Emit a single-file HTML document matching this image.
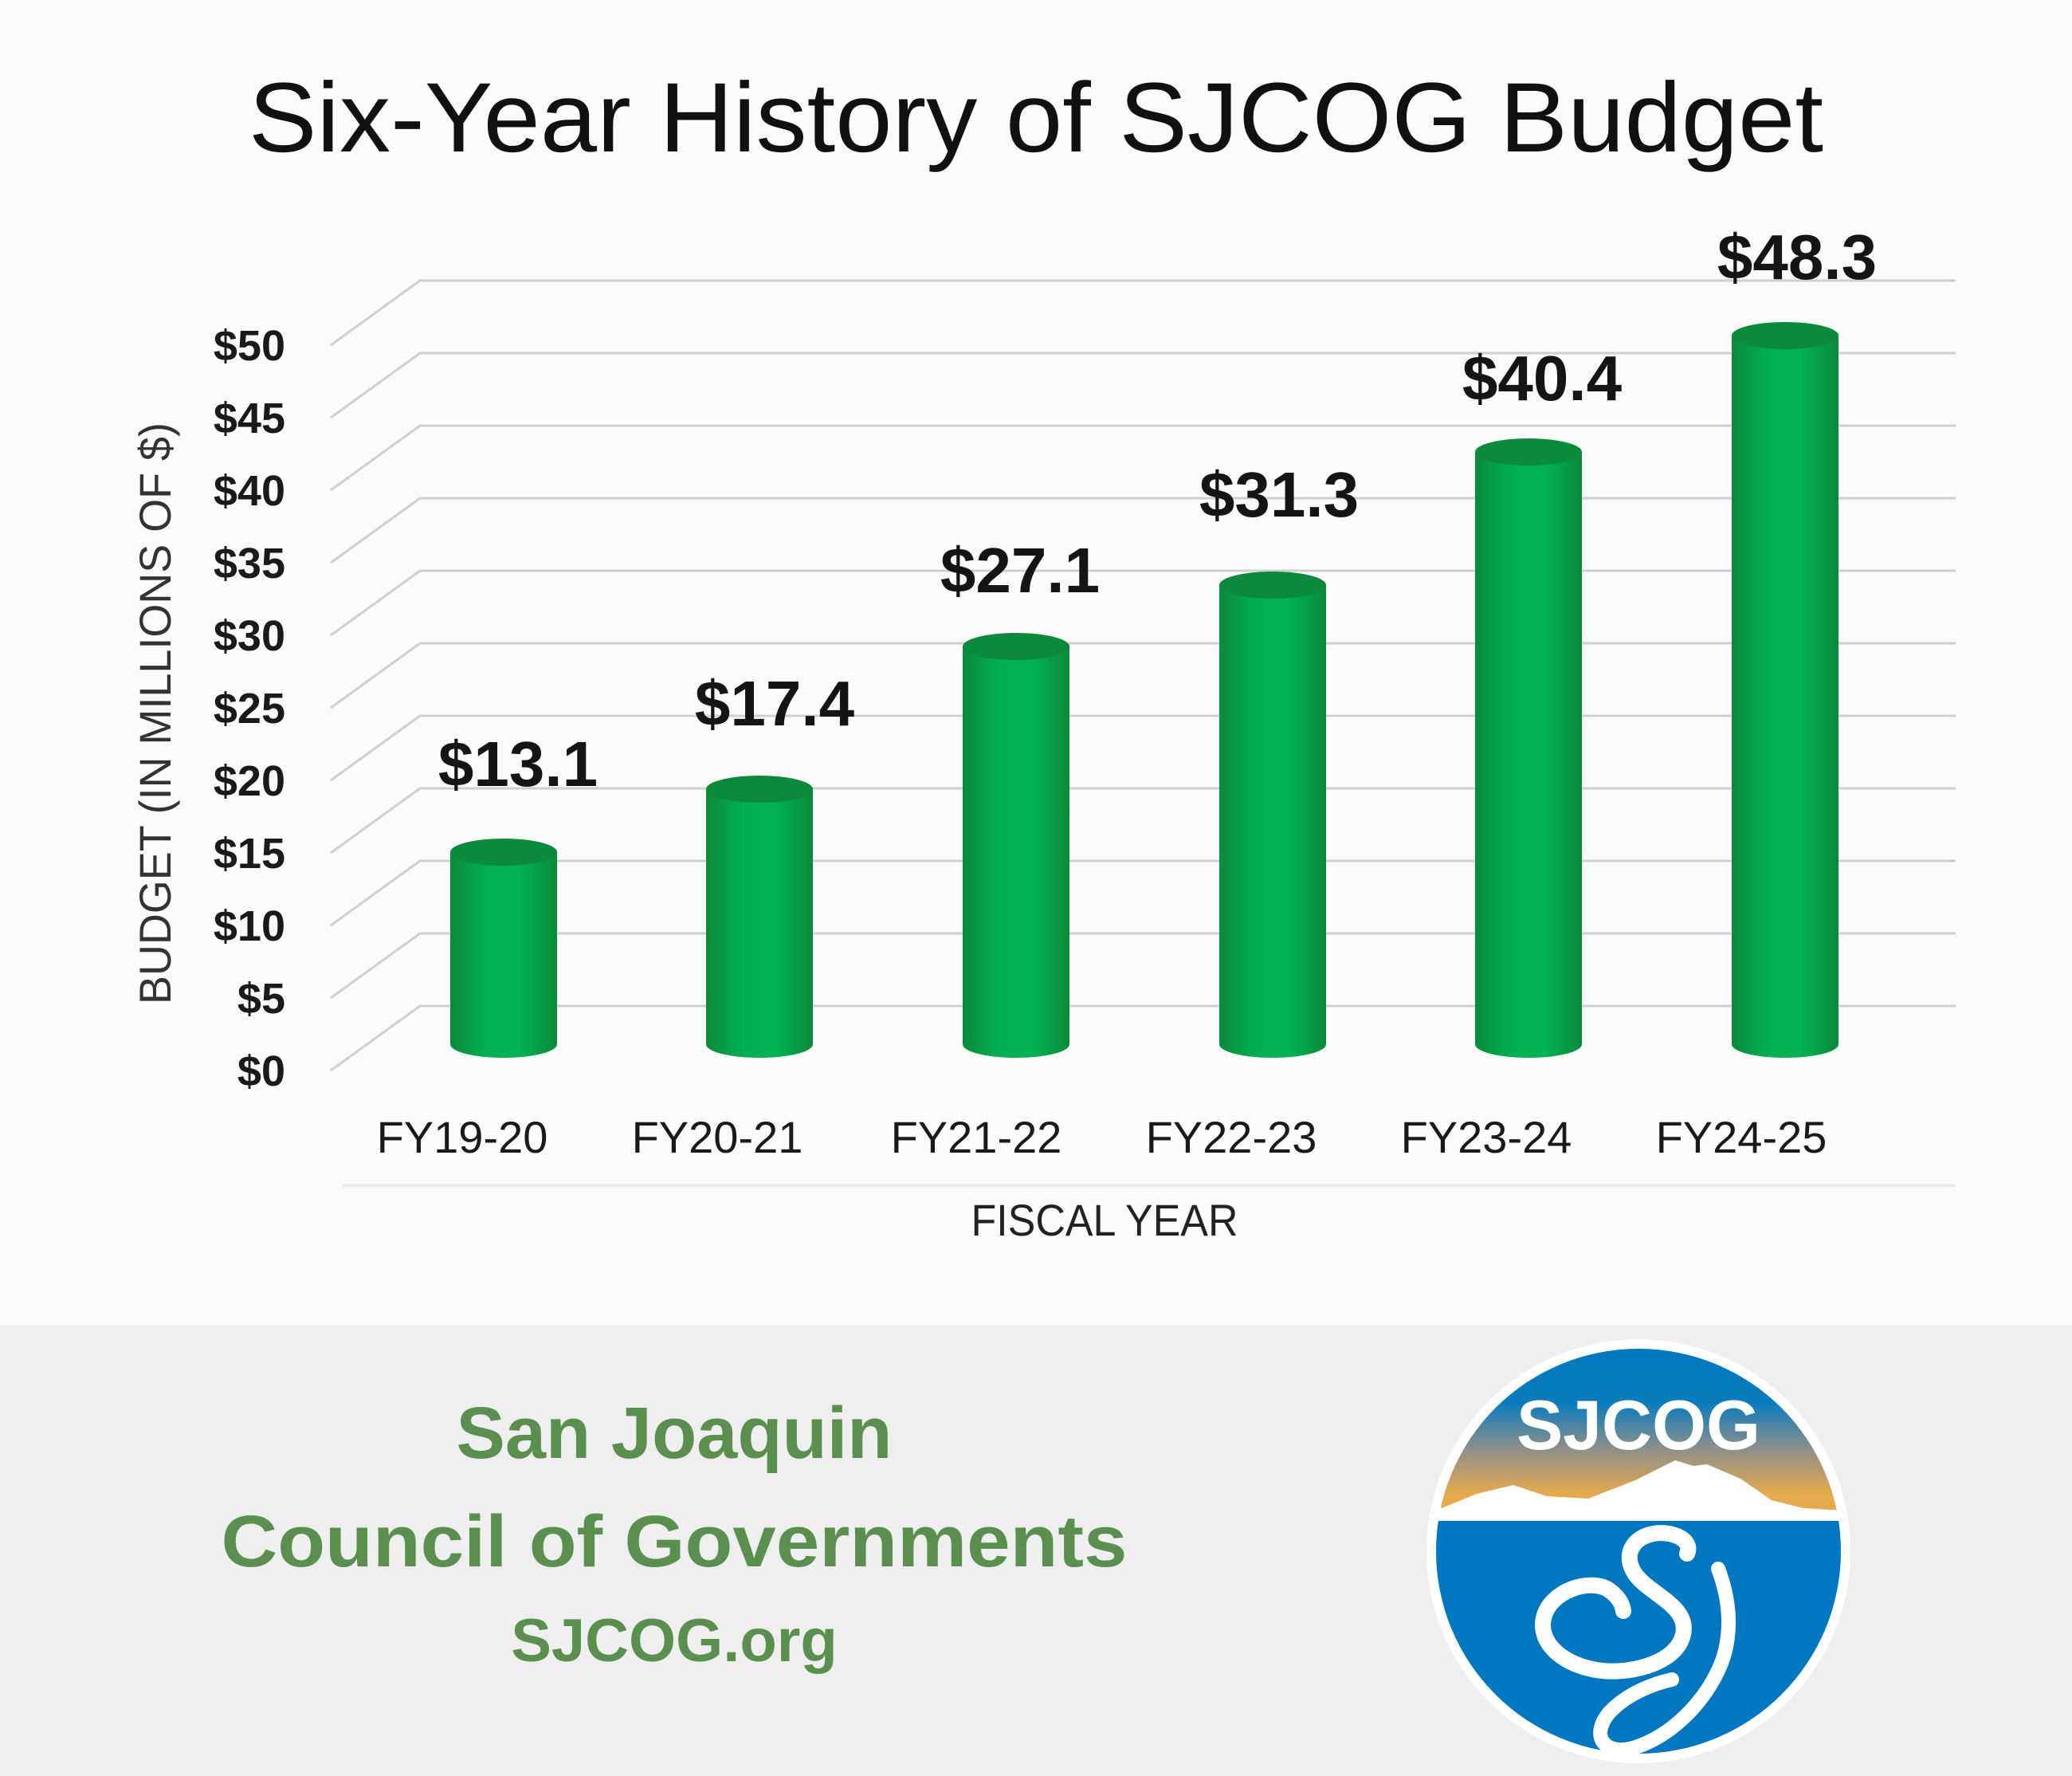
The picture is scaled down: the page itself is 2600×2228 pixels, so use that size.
<!DOCTYPE html>
<html><head><meta charset="utf-8"><style>
html,body{margin:0;padding:0;background:#efefef}
svg{display:block}
text{font-family:"Liberation Sans",sans-serif}
</style></head><body>
<svg width="2600" height="2228" viewBox="0 0 2600 2228" xmlns="http://www.w3.org/2000/svg">
<defs>
<linearGradient id="bar" x1="0" x2="1" y1="0" y2="0">
<stop offset="0" stop-color="#0b8a3a"/><stop offset="0.35" stop-color="#00b052"/><stop offset="0.65" stop-color="#00b254"/><stop offset="1" stop-color="#0b8a3a"/>
</linearGradient>
<linearGradient id="sky" x1="0" x2="0" y1="0" y2="1">
<stop offset="0" stop-color="#0077c0"/><stop offset="0.35" stop-color="#0a7cbc"/><stop offset="0.6" stop-color="#8f8f8a"/><stop offset="0.85" stop-color="#e6aa4d"/><stop offset="1" stop-color="#e6aa4d"/>
</linearGradient>
<clipPath id="cc"><circle cx="2056" cy="1946" r="254"/></clipPath>
</defs>
<rect x="0" y="0" width="2600" height="1663" fill="#fbfbfb"/>
<rect x="0" y="1663" width="2600" height="565" fill="#efefef"/>

<text x="1300" y="190" font-size="124" text-anchor="middle" fill="#111" textLength="1976" lengthAdjust="spacingAndGlyphs">Six-Year History of SJCOG Budget</text>

<g stroke="#cfcfcf" stroke-width="3" fill="none">
<polyline points="415,1343 527,1262 2454,1262"/>
<polyline points="415,1252 527,1171 2454,1171"/>
<polyline points="415,1161 527,1080 2454,1080"/>
<polyline points="415,1070 527,989 2454,989"/>
<polyline points="415,979 527,898 2454,898"/>
<polyline points="415,888 527,807 2454,807"/>
<polyline points="415,797 527,716 2454,716"/>
<polyline points="415,706 527,625 2454,625"/>
<polyline points="415,615 527,534 2454,534"/>
<polyline points="415,524 527,443 2454,443"/>
<polyline points="415,433 527,352 2454,352"/>
</g>
<line x1="430" y1="1487" x2="2454" y2="1487" stroke="#e6e6e6" stroke-width="3"/>

<g font-size="54" font-weight="bold" fill="#1a1a1a" text-anchor="end">
<text x="358" y="1362">$0</text>
<text x="358" y="1271">$5</text>
<text x="358" y="1180">$10</text>
<text x="358" y="1089">$15</text>
<text x="358" y="998">$20</text>
<text x="358" y="907">$25</text>
<text x="358" y="816">$30</text>
<text x="358" y="725">$35</text>
<text x="358" y="634">$40</text>
<text x="358" y="543">$45</text>
<text x="358" y="452">$50</text>
</g>

<text transform="translate(214,895) rotate(-90)" font-size="56" fill="#333" text-anchor="middle" textLength="730" lengthAdjust="spacingAndGlyphs">BUDGET (IN MILLIONS OF $)</text>

<g>
<path d="M565,1069 V1310 A67,17 0 0 0 699,1310 V1069 Z" fill="url(#bar)"/><ellipse cx="632" cy="1069" rx="67" ry="17" fill="#0a8a3a"/>
<path d="M886,990 V1310 A67,17 0 0 0 1020,1310 V990 Z" fill="url(#bar)"/><ellipse cx="953" cy="990" rx="67" ry="17" fill="#0a8a3a"/>
<path d="M1208,811 V1310 A67,17 0 0 0 1342,1310 V811 Z" fill="url(#bar)"/><ellipse cx="1275" cy="811" rx="67" ry="17" fill="#0a8a3a"/>
<path d="M1530,734 V1310 A67,17 0 0 0 1664,1310 V734 Z" fill="url(#bar)"/><ellipse cx="1597" cy="734" rx="67" ry="17" fill="#0a8a3a"/>
<path d="M1851,567 V1310 A67,17 0 0 0 1985,1310 V567 Z" fill="url(#bar)"/><ellipse cx="1918" cy="567" rx="67" ry="17" fill="#0a8a3a"/>
<path d="M2173,421 V1310 A67,17 0 0 0 2307,1310 V421 Z" fill="url(#bar)"/><ellipse cx="2240" cy="421" rx="67" ry="17" fill="#0a8a3a"/>
</g>

<g font-size="80" font-weight="bold" fill="#151515" text-anchor="middle">
<text x="650" y="986">$13.1</text>
<text x="972" y="910">$17.4</text>
<text x="1280" y="743">$27.1</text>
<text x="1605" y="648">$31.3</text>
<text x="1935" y="502">$40.4</text>
<text x="2255" y="350">$48.3</text>
</g>

<g font-size="56" fill="#1a1a1a" text-anchor="middle">
<text x="580" y="1446">FY19-20</text>
<text x="900" y="1446">FY20-21</text>
<text x="1225" y="1446">FY21-22</text>
<text x="1545" y="1446">FY22-23</text>
<text x="1865" y="1446">FY23-24</text>
<text x="2185" y="1446">FY24-25</text>
</g>
<text x="1386" y="1550" font-size="56" fill="#222" text-anchor="middle" textLength="335" lengthAdjust="spacingAndGlyphs">FISCAL YEAR</text>

<g fill="#5b8f4f" font-weight="bold" text-anchor="middle">
<text x="846" y="1829" font-size="92">San Joaquin</text>
<text x="846" y="1965" font-size="92" textLength="1137" lengthAdjust="spacingAndGlyphs">Council of Governments</text>
<text x="846" y="2084" font-size="76">SJCOG.org</text>
</g>

<circle cx="2056" cy="1946" r="266" fill="#ffffff"/>
<g clip-path="url(#cc)">
<rect x="1790" y="1680" width="540" height="230" fill="url(#sky)"/>
<polygon points="1780,1892 1809,1892 1853,1874 1899,1863 1941,1877 1993,1880 2052,1857 2102,1832 2125,1839 2142,1837 2184,1855 2223,1882 2263,1892 2330,1896 2330,1908 1780,1908" fill="#ffffff"/>
<rect x="1780" y="1908" width="560" height="300" fill="#0077c0"/>
</g>
<text x="2056" y="1818" font-size="88" font-weight="bold" fill="#ffffff" text-anchor="middle" textLength="306" lengthAdjust="spacingAndGlyphs">SJCOG</text>
<g fill="none" stroke="#ffffff" stroke-linecap="round">
<path d="M2117,1949 C2125,1930 2095,1920 2075,1924 C2050,1928 2035,1950 2052,1975 C2070,2000 2120,2015 2112,2050 C2105,2085 2050,2100 2010,2096 C1960,2090 1930,2060 1937,2030 C1945,1995 1995,1980 2018,1994 C2030,2002 2036,2012 2037,2021" stroke-width="20"/>
<path d="M2156,1968 C2168,2000 2172,2030 2167,2060 C2160,2110 2110,2175 2049,2193 C2015,2202 1995,2180 2018,2150 C2040,2125 2075,2112 2098,2107" stroke-width="18"/>
</g>
</svg>
</body></html>
